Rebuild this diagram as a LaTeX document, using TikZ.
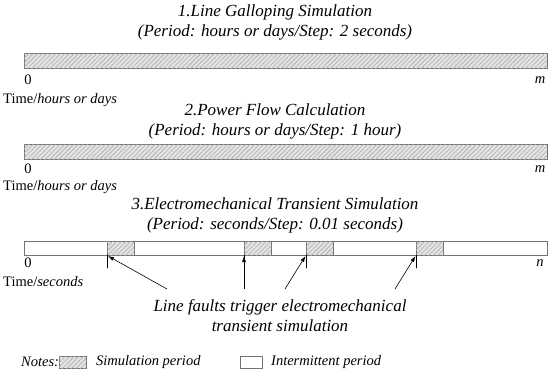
\documentclass[tikz,border=0pt]{standalone}
\usepackage{fontspec}
\setmainfont{Liberation Serif}
\usepackage{tikz}
\usetikzlibrary{calc, patterns.meta, arrows.meta}
\usepackage{tkz-euclide}
\usepackage{xcolor}

\tikzset{
  simbar/.style = {draw=gray!90!black, line width=0.6pt, fill=gray!22,
    postaction={pattern={Lines[angle=45, distance=3.2pt, line width=0.6pt]},
      pattern color=gray!65}},
  gapbar/.style = {draw=gray!90!black, line width=0.6pt, fill=white},
  title/.style = {font=\fontsize{17}{20}\selectfont\itshape, align=center, inner sep=0pt},
  lbl/.style = {font=\fontsize{14.5}{16}\selectfont, inner sep=0pt},
  note/.style = {font=\fontsize{14.5}{16}\selectfont\itshape, inner sep=0pt, anchor=west},
  fault/.style = {-{Latex[length=6pt, width=4pt]}, line width=0.6pt}
}

\begin{document}
\begin{tikzpicture}[x = 1pt, y = -1pt]
            \useasboundingbox[fill=white] (0,0) rectangle (550,372);
            \tkzDefPoints{24/53/A1, 547/68/B1, 24/144/A2, 547/159/B2, 24/241/A3, 547/255/B3}
            \tkzDefPoints{107/255/T1, 244/255/T2, 306/255/T3, 416/255/T4}
            \tkzDefPoints{107/268/U1, 244/268/U2, 306/268/U3, 416/268/U4}
            \tkzDefPoints{167/289/S1, 244/289/S2, 285/289/S3, 395/289/S4}
            % the three time axes
            \draw[simbar] (A1) rectangle (B1);
            \draw[simbar] (A2) rectangle (B2);
            \draw[gapbar] (A3) rectangle (B3);
            \foreach \s in {107, 244, 306, 416}
                \draw[simbar] (\s,241) rectangle (\s+27,255);
            \tkzDrawSegments[black, line width=0.6pt](T1,U1 T2,U2 T3,U3 T4,U4)
            % titles
            \node[title] (sim1) at (275,22) {1.Line Galloping Simulation\\(Period: hours or days/Step: 2 seconds)};
            \node[title] (sim2) at (275,121) {2.Power Flow Calculation\\(Period: hours or days/Step: 1 hour)};
            \node[title] (sim3) at (275,215) {3.Electromechanical Transient Simulation\\(Period: seconds/Step: 0.01 seconds)};
            % axis labels
            \node[lbl] (zero1) at (28,80) {0};
            \node[lbl] (end1) at (540,80) {\textit{m}};
            \node[lbl, anchor=west] (time1) at (3,100) {Time/\textit{hours or days}};
            \node[lbl] (zero2) at (28,169) {0};
            \node[lbl] (end2) at (540,169) {\textit{m}};
            \node[lbl, anchor=west] (time2) at (3,187) {Time/\textit{hours or days}};
            \node[lbl] (zero3) at (28,263) {0};
            \node[lbl] (end3) at (540,263) {\textit{n}};
            \node[lbl, anchor=west] (time3) at (3,282) {Time/\textit{seconds}};
            % line faults
            \node[title] (trig) at (280,316) {Line faults trigger electromechanical\\transient simulation};
            \draw[fault] (S1) -- ($(T1)+(1,1)$);
            \draw[fault] (S2) -- ($(T2)+(0,1)$);
            \draw[fault] (S3) -- ($(T3)+(-0.5,1)$);
            \draw[fault] (S4) -- ($(T4)+(-0.5,1)$);
            % notes
            \node[note] (notes) at (21,362) {Notes:};
            \draw[simbar] (59,356) rectangle (86,368);
            \node[note] (simp) at (96,362) {Simulation period};
            \draw[gapbar] (240,356) rectangle (262,368);
            \node[note] (intp) at (271,362) {Intermittent period};
\end{tikzpicture}
\end{document}
